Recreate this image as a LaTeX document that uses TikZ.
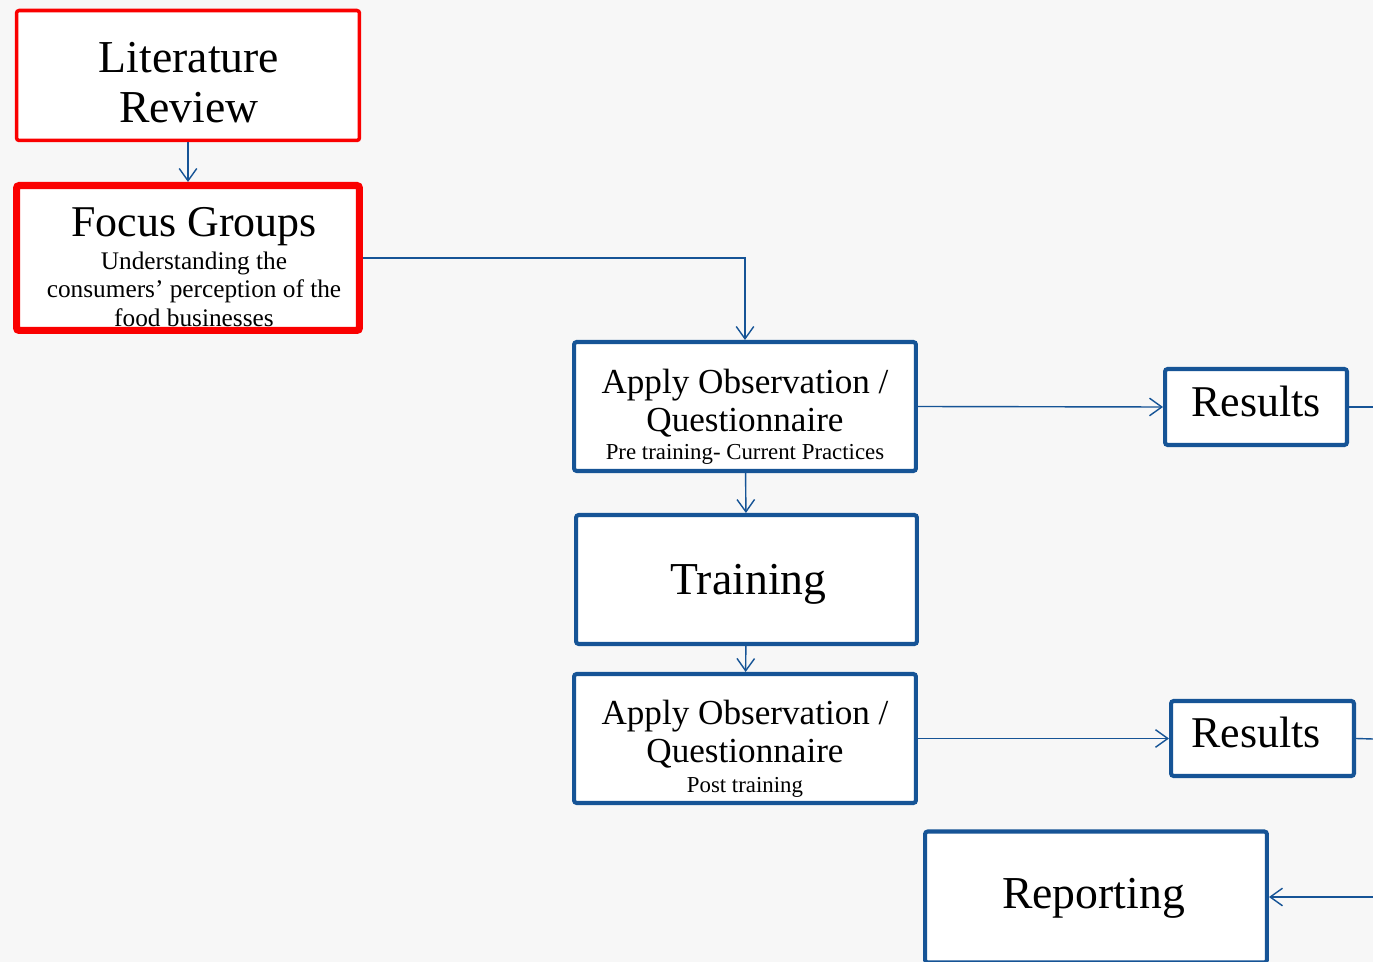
\documentclass[tikz,border=0pt]{standalone}
\usepackage{fontspec}
\setmainfont{Liberation Serif}
\usetikzlibrary{arrows.meta}
\definecolor{flowblue}{RGB}{22,84,150}
\definecolor{flowred}{RGB}{250,0,0}
\definecolor{paper}{RGB}{247,247,247}
\newcommand\notefont{\fontsize{14.4}{16}\selectfont}
\newcommand\stepfont{\fontsize{13}{15}\selectfont}
\tikzset{bluebox/.style={draw=flowblue, line width=2.3pt, fill=white, rounded corners=1.5pt, inner sep=0pt}, redbox/.style={bluebox, draw=flowred, line width=2pt}, boxtext/.style={align=center, inner sep=0pt}}
\tikzset{link/.style={flowblue, line width=0.8pt, -{Straight Barb[length=7pt,width=10pt]}}, plain/.style={flowblue, line width=0.8pt}}

\begin{document}
\begin{tikzpicture}[x=0.02cm, y=-0.02cm]
   \useasboundingbox (0,0) rectangle (1373,962);
   \fill[paper] (0,0) rectangle (1373,962);
   \clip (0,0) rectangle (1373,962);
   % left column
   \node[redbox, minimum width=6.86cm, minimum height=2.6cm] (lit) at (188,75.5) {};
   \node[boxtext, font=\fontsize{26}{28.5}\selectfont] (lit-txt) at (189,82.5) {Literature\\ Review};
   \node[redbox, line width=4pt, minimum width=6.86cm, minimum height=2.9cm] (focus) at (188,258) {};
   \node[boxtext, font=\fontsize{25}{28}\selectfont] (focus-txt) at (194,267)
     {Focus Groups\\[-9.2pt]
      {\notefont Understanding the}\\[-12pt]
      {\notefont consumers' perception of the}\\[-12pt]
      {\notefont food businesses}};
   % middle column
   \node[bluebox, minimum width=6.84cm, minimum height=2.58cm] (app1) at (745,406.5) {};
   \node[boxtext, font=\fontsize{20}{21.6}\selectfont] (app1-txt) at (745,416.5)
     {Apply Observation /\\ Questionnaire\\[-5.6pt]
      {\stepfont Pre training- Current Practices}};
   \node[bluebox, minimum width=6.82cm, minimum height=2.58cm] (train) at (746.5,579.5) {};
   \node[boxtext, font=\fontsize{26}{30}\selectfont] (train-txt) at (748.5,584.5) {Training};
   \node[bluebox, minimum width=6.84cm, minimum height=2.58cm] (app2) at (745,738.5) {};
   \node[boxtext, font=\fontsize{20}{21.6}\selectfont] (app2-txt) at (745,748.5)
     {Apply Observation /\\ Questionnaire\\[-4.5pt]
      {\stepfont Post training}};
   % right column
   \node[bluebox, minimum width=3.64cm, minimum height=1.52cm] (res1) at (1256,407) {};
   \node[boxtext, font=\fontsize{25}{28}\selectfont] (res1-txt) at (1256,401) {Results};
   \node[bluebox, minimum width=3.66cm, minimum height=1.5cm] (res2) at (1262.5,738.5) {};
   \node[boxtext, font=\fontsize{25}{28}\selectfont] (res2-txt) at (1256,732) {Results};
   \node[bluebox, minimum width=6.84cm, minimum height=2.62cm] (rep) at (1096,897) {};
   \node[boxtext, font=\fontsize{26}{30}\selectfont] (rep-txt) at (1093.5,898) {Reporting};
   \coordinate (edge1) at (1373,407);
   \coordinate (edge2) at (1373,739);
   \coordinate (edge3) at (1373,897);
   % connectors
   \draw[link] (lit) -- (focus);
   \draw[link] (focus.east) -| (app1);
   \draw[link] (app1.east) -- (res1.west);
   \draw[plain] (res1.east) -- (edge1);
   \draw[link] (app1) -- (train);
   \draw[link] (train) -- (app2);
   \draw[link] (app2.east) -- (res2.west);
   \draw[plain] (res2.east) -- (edge2);
   \draw[link] (edge3) -- (rep);
\end{tikzpicture}
\end{document}
